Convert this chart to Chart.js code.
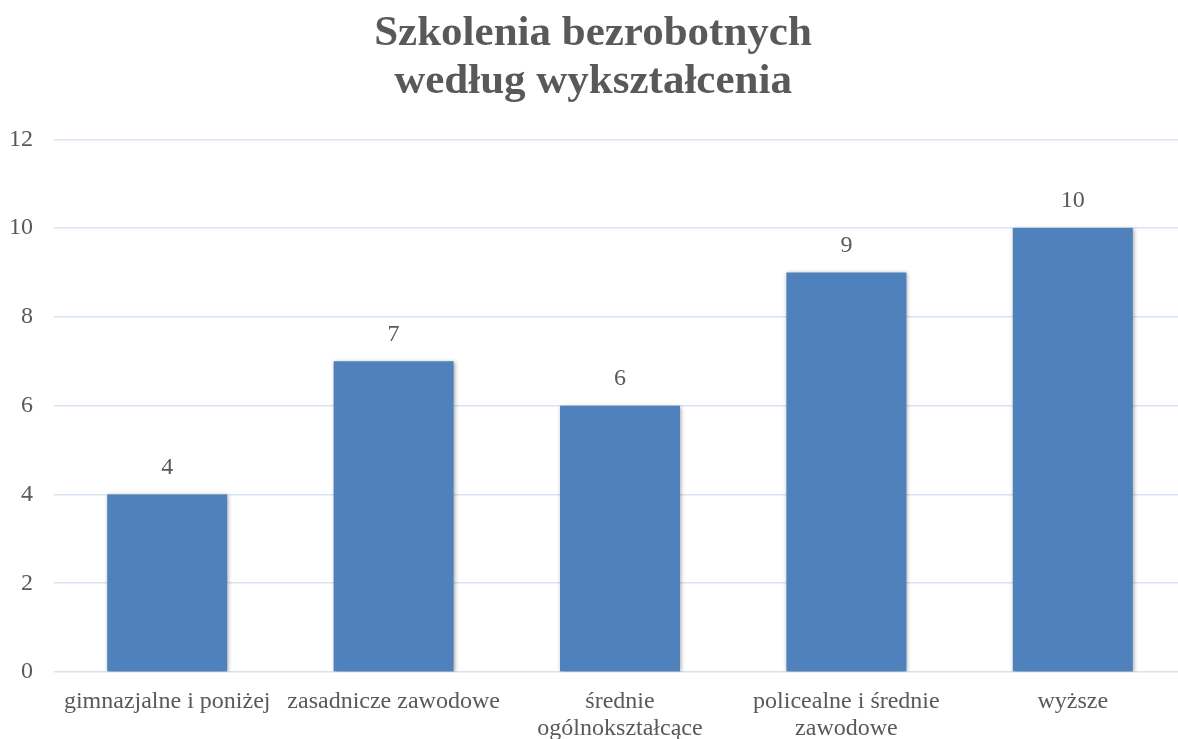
<!DOCTYPE html>
<html lang="pl">
<head>
<meta charset="utf-8">
<script src="https://cdn.jsdelivr.net/npm/chart.js@4.4.1/dist/chart.umd.min.js"></script>
<style>
  html, body { margin: 0; padding: 0; background: #fff; overflow: hidden; }
  #wrap { width: 1178px; height: 739px; overflow: hidden; }
</style>
</head>
<body>
<div id="wrap"><canvas id="chart" width="1186" height="739"></canvas></div>
<script>
// dane wykresu
var categories = [
  'gimnazjalne i poniżej',
  'zasadnicze zawodowe',
  ['średnie', 'ogólnokształcące'],
  ['policealne i średnie', 'zawodowe'],
  'wyższe'
];
var values = [4, 7, 6, 9, 10];
var yTicks = [0, 2, 4, 6, 8, 10, 12];

var serif = "'Liberation Serif', 'Times New Roman', serif";
var textColor = '#595959';

// etykiety wartości nad słupkami
var valueLabels = {
  id: 'valueLabels',
  afterDatasetsDraw: function (chart) {
    var ctx = chart.ctx;
    var meta = chart.getDatasetMeta(0);
    ctx.save();
    ctx.font = '24px ' + serif;
    ctx.fillStyle = textColor;
    ctx.textAlign = 'center';
    ctx.textBaseline = 'middle';
    meta.data.forEach(function (bar, i) {
      ctx.fillText(String(values[i]), bar.x, bar.y - 27);
    });
    ctx.restore();
  }
};

// lekki cień pod słupkami
var barShadow = {
  id: 'barShadow',
  beforeDatasetDraw: function (chart) {
    var ctx = chart.ctx;
    ctx.save();
    ctx.shadowColor = 'rgba(0,0,0,0.35)';
    ctx.shadowBlur = 4;
    ctx.shadowOffsetX = 1;
    ctx.shadowOffsetY = 1;
  },
  afterDatasetDraw: function (chart) {
    chart.ctx.restore();
  }
};

new Chart(document.getElementById('chart').getContext('2d'), {
  type: 'bar',
  data: {
    labels: categories,
    datasets: [{
      data: values,
      backgroundColor: '#4f81bd',
      borderWidth: 0,
      barPercentage: 0.53,
      categoryPercentage: 1.0
    }]
  },
  options: {
    responsive: false,
    animation: false,
    layout: { padding: { left: 0, right: 0, top: 0, bottom: 0 } },
    plugins: {
      legend: { display: false },
      tooltip: { enabled: false },
      title: {
        display: true,
        text: ['Szkolenia bezrobotnych', 'według wykształcenia'],
        color: textColor,
        font: { family: serif, size: 43, weight: 'bold', lineHeight: 1.12 },
        padding: { top: 10, bottom: 33 }
      }
    },
    scales: {
      x: {
        grid: { display: false },
        border: { display: false },
        ticks: {
          color: textColor,
          font: { family: serif, size: 24, lineHeight: 1.1 },
          padding: 9,
          maxRotation: 0,
          autoSkip: false
        },
        afterFit: function (scale) { scale.height = 67; }
      },
      y: {
        min: 0,
        max: 12,
        afterBuildTicks: function (scale) {
          scale.ticks = yTicks.map(function (v) { return { value: v }; });
        },
        grid: { color: '#d6e3f3', lineWidth: 1.5, drawTicks: false },
        border: { display: false },
        ticks: {
          color: textColor,
          font: { family: serif, size: 24 },
          padding: 21
        },
        afterFit: function (scale) { scale.width = 54; }
      }
    }
  },
  plugins: [barShadow, valueLabels]
});
</script>
</body>
</html>
